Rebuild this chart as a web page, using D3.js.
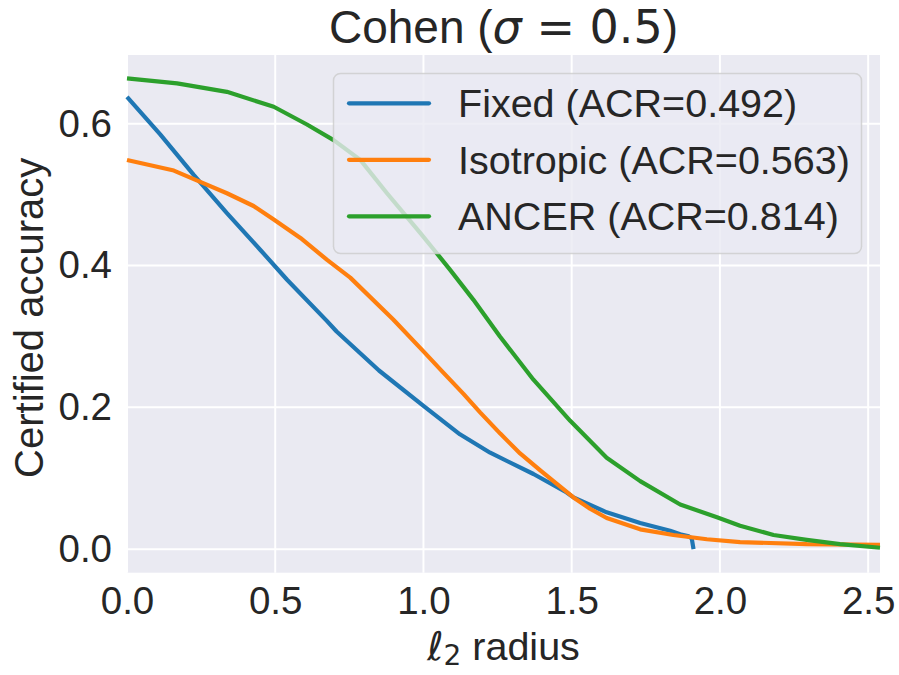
<!DOCTYPE html>
<html>
  <head>
    <meta charset="utf-8">
    <title>Cohen sigma 0.5</title>
    <style>
      body { margin: 0; background: #fff; }
      text { fill: #262626; }
    </style>
  </head>
  <body>
    <div id="chart"></div>
    <script src="https://cdn.jsdelivr.net/npm/d3@7"></script>
    <script>

      const width = 899;
      const height = 675;

      // certified accuracy curves
      const fixedR   = [0, 0.112, 0.225, 0.337, 0.45, 0.54, 0.674, 0.707, 0.85, 1.0, 1.123, 1.225, 1.371, 1.483, 1.506, 1.618, 1.731, 1.832, 1.866, 1.895, 1.905, 1.911];
      const fixedAcc = [0.638, 0.585, 0.528, 0.474, 0.422, 0.380, 0.322, 0.307, 0.252, 0.202, 0.162, 0.136, 0.106, 0.080, 0.073, 0.052, 0.037, 0.026, 0.021, 0.018, 0.015, 0.0];

      const isoR   = [0, 0.158, 0.259, 0.337, 0.427, 0.495, 0.585, 0.675, 0.753, 0.898, 1.0, 1.067, 1.135, 1.191, 1.259, 1.326, 1.394, 1.45, 1.506, 1.562, 1.618, 1.731, 1.843, 1.956, 2.068, 2.293, 2.54];
      const isoAcc = [0.549, 0.534, 0.516, 0.502, 0.484, 0.465, 0.439, 0.408, 0.383, 0.324, 0.279, 0.249, 0.219, 0.193, 0.163, 0.135, 0.111, 0.092, 0.073, 0.057, 0.044, 0.028, 0.020, 0.014, 0.010, 0.007, 0.006];

      const ancerR   = [0, 0.169, 0.337, 0.495, 0.607, 0.697, 0.787, 0.877, 0.989, 1.034, 1.09, 1.168, 1.258, 1.371, 1.495, 1.618, 1.731, 1.866, 1.99, 2.068, 2.181, 2.293, 2.405, 2.54];
      const ancerAcc = [0.664, 0.657, 0.645, 0.624, 0.599, 0.577, 0.549, 0.502, 0.446, 0.423, 0.394, 0.352, 0.300, 0.239, 0.181, 0.129, 0.096, 0.063, 0.045, 0.033, 0.020, 0.013, 0.007, 0.002];

      const seriesNames  = ['Fixed (ACR=0.492)', 'Isotropic (ACR=0.563)', 'ANCER (ACR=0.814)'];
      const seriesColors = ['#1f77b4', '#ff7f0e', '#2ca02c'];

      const xTicks = [0, 0.5, 1.0, 1.5, 2.0, 2.5];
      const yTicks = [0, 0.2, 0.4, 0.6];

      const series = [
        fixedR.map((r, i) => [r, fixedAcc[i]]),
        isoR.map((r, i) => [r, isoAcc[i]]),
        ancerR.map((r, i) => [r, ancerAcc[i]])
      ];

      const pLeft = 127, pRight = 880, pTop = 55, pBottom = 572.7;

      const x = d3.scaleLinear().domain([0, 2.54]).range([pLeft, pRight]);
      const y = d3.scaleLinear().domain([-0.0332, 0.697]).range([pBottom, pTop]);

      const svg = d3.select('#chart')
                    .append('svg')
                    .attr('width', width)
                    .attr('height', height)
                    .style('font-family', '"Liberation Sans", Arial, sans-serif');

      // plot background
      svg.append('rect')
         .attr('x', pLeft).attr('y', pTop)
         .attr('width', pRight - pLeft).attr('height', pBottom - pTop)
         .attr('fill', '#eaeaf2');

      // grid
      const grid = svg.append('g').attr('stroke', '#fff').attr('stroke-width', 2);
      grid.selectAll('line.gx').data(xTicks).enter()
          .append('line')
          .attr('x1', d => x(d)).attr('x2', d => x(d))
          .attr('y1', pTop).attr('y2', pBottom);
      grid.selectAll('line.gy').data(yTicks).enter()
          .append('line')
          .attr('y1', d => y(d)).attr('y2', d => y(d))
          .attr('x1', pLeft).attr('x2', pRight);

      // axes, no spines, no tick marks
      const xAxis = svg.append('g')
                       .attr('transform', `translate(0,${pBottom})`)
                       .call(d3.axisBottom(x).tickValues(xTicks).tickFormat(d3.format('.1f')).tickSize(0).tickPadding(14));
      const yAxis = svg.append('g')
                       .attr('transform', `translate(${pLeft},0)`)
                       .call(d3.axisLeft(y).tickValues(yTicks).tickFormat(d3.format('.1f')).tickSize(0).tickPadding(15));
      [xAxis, yAxis].forEach(a => {
        a.select('.domain').remove();
        a.selectAll('text').attr('fill', '#262626').style('font-size', '38.5px').style('font-family', '"Liberation Sans", Arial, sans-serif');
      });

      // curves
      const line = d3.line().x(d => x(d[0])).y(d => y(d[1]));
      svg.append('g')
         .selectAll('path')
         .data(series)
         .enter()
         .append('path')
         .attr('d', line)
         .attr('fill', 'none')
         .attr('stroke', (d, i) => seriesColors[i])
         .attr('stroke-width', 4.2)
         .attr('stroke-linejoin', 'round')
         .attr('stroke-linecap', 'butt');

      // legend
      const legend = svg.append('g');
      legend.append('rect')
            .attr('x', 333.5).attr('y', 73.5)
            .attr('width', 528).attr('height', 180)
            .attr('rx', 7)
            .attr('fill', '#eaeaf2').attr('fill-opacity', 0.8)
            .attr('stroke', '#cccccc').attr('stroke-opacity', 0.8).attr('stroke-width', 1.5);
      const rows = legend.selectAll('g.row').data(seriesNames).enter()
            .append('g')
            .attr('transform', (d, i) => `translate(0,${103.3 + i * 56.5})`);
      rows.append('line')
          .attr('x1', 349).attr('x2', 429)
          .attr('stroke', (d, i) => seriesColors[i])
          .attr('stroke-width', 4.2)
          .attr('stroke-linecap', 'round');
      rows.append('text')
          .attr('x', 458).attr('y', 14)
          .style('font-size', '39.5px')
          .text(d => d);

      // title
      const title = svg.append('text')
                       .attr('x', (pLeft + pRight) / 2).attr('y', 43)
                       .attr('text-anchor', 'middle')
                       .style('font-size', '46px');
      title.append('tspan').text('Cohen (');
      title.append('tspan').style('font-family', '"DejaVu Sans"').style('font-style', 'italic').text('σ');
      title.append('tspan').style('font-family', '"DejaVu Sans"').text(' = 0.5');
      title.append('tspan').text(')');

      // x label
      const xl = svg.append('text')
                    .attr('x', (pLeft + pRight) / 2).attr('y', 660)
                    .attr('text-anchor', 'middle')
                    .style('font-size', '39.5px');
      xl.append('tspan').style('font-family', '"DejaVu Sans"').style('font-style', 'italic').text('ℓ');
      xl.append('tspan').style('font-family', '"DejaVu Sans"').style('font-size', '28px').attr('dy', 5).text('2');
      xl.append('tspan').attr('dy', -5).text(' radius');

      // y label
      svg.append('text')
         .attr('transform', `translate(43,${(pTop + pBottom) / 2 + 4}) rotate(-90)`)
         .attr('text-anchor', 'middle')
         .style('font-size', '40px')
         .text('Certified accuracy');

    </script>
  </body>
</html>
